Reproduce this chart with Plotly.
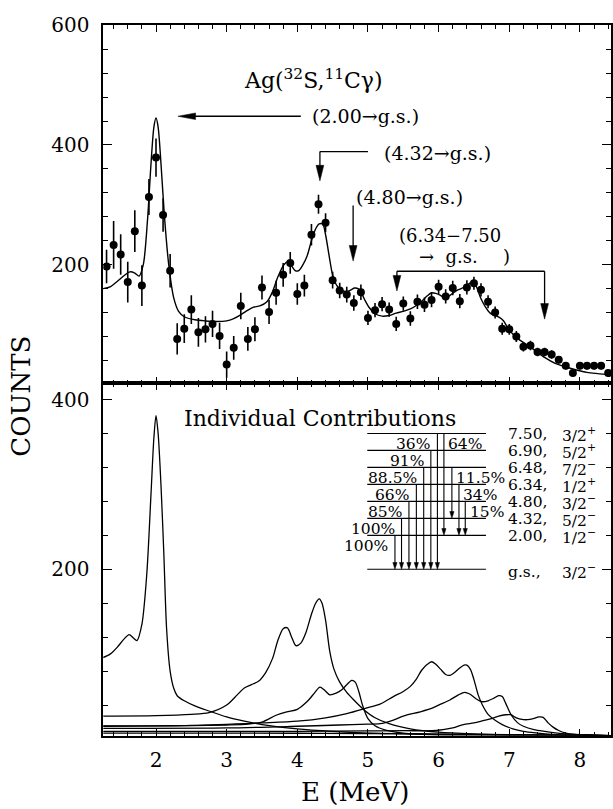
import plotly.graph_objects as go

# ---------------- data: measured spectrum (top panel) ----------------
E_data = [1.30, 1.40, 1.50, 1.60, 1.70, 1.80, 1.90, 2.00, 2.10, 2.20,
          2.30, 2.40, 2.50, 2.60, 2.70, 2.80, 2.90, 3.00, 3.10, 3.20,
          3.30, 3.40, 3.50, 3.60, 3.70, 3.80, 3.90, 4.00, 4.10, 4.20,
          4.30, 4.40, 4.50, 4.60, 4.70, 4.80, 4.90, 5.00, 5.10, 5.20,
          5.30, 5.40, 5.50, 5.60, 5.70, 5.80, 5.90, 6.00, 6.10, 6.20,
          6.30, 6.40, 6.50, 6.60, 6.70, 6.80, 6.90, 7.00, 7.10, 7.20,
          7.30, 7.40, 7.50, 7.60, 7.70, 7.80, 7.90, 8.00, 8.10, 8.20,
          8.30, 8.40]
counts = [197, 233, 217, 171, 256, 165, 313, 379, 283, 190,
          76, 93, 125, 87, 92, 101, 81, 33, 61, 131,
          76, 92, 162, 121, 153, 183, 203, 151, 165, 250,
          301, 270, 174, 157, 150, 136, 154, 111, 124, 134,
          125, 101, 135, 110, 138, 133, 141, 163, 147, 161,
          139, 162, 169, 158, 138, 120, 93, 92, 80, 63,
          65, 54, 54, 50, 41, 31, 19, 31, 31, 31,
          31, 19]
count_err = [28, 40, 34, 34, 35, 34, 30, 32, 28, 28,
             26, 24, 24, 24, 22, 22, 22, 22, 20, 22,
             20, 20, 20, 20, 20, 20, 18, 18, 18, 18,
             16, 16, 14, 13, 13, 13, 13, 12, 12, 12,
             12, 12, 12, 12, 12, 12, 12, 12, 12, 12,
             12, 12, 11, 11, 11, 10, 10, 9, 9, 8,
             8, 7, 7, 7, 6, 6, 6, 6, 6, 6,
             6, 6]

# total fit (top panel)
E_fit = [1.25, 1.35, 1.45, 1.55, 1.63, 1.70, 1.76, 1.82, 1.88, 1.93, 1.97, 2.00, 2.03,
         2.07, 2.12, 2.18, 2.25, 2.32, 2.40, 2.55, 2.70, 2.85, 3.00, 3.10, 3.21, 3.30,
         3.38, 3.47, 3.57, 3.65, 3.72, 3.81, 3.87, 3.92, 3.97, 4.02, 4.08, 4.14, 4.20,
         4.26, 4.31, 4.36, 4.40, 4.45, 4.50, 4.56, 4.63, 4.70, 4.76, 4.81, 4.86, 4.91,
         4.96, 5.02, 5.10, 5.20, 5.30, 5.40, 5.50, 5.60, 5.70, 5.78, 5.84, 5.90, 5.96,
         6.02, 6.08, 6.14, 6.20, 6.26, 6.32, 6.38, 6.44, 6.49, 6.54, 6.60, 6.66, 6.73,
         6.80, 6.86, 6.92, 6.98, 7.05, 7.15, 7.25, 7.35, 7.50, 7.65, 7.80, 7.95, 8.10,
         8.25, 8.44]
fit = [160, 163, 172, 182, 188, 186, 181, 200, 275, 370, 430, 445, 430,
       370, 280, 200, 145, 122, 113, 108, 106, 105, 106, 110, 117, 124,
       129, 131, 138, 155, 178, 200, 205, 198, 190, 190, 200, 215, 240,
       260, 268, 268, 250, 215, 183, 165, 157, 155, 158, 161, 160, 152,
       140, 128, 118, 114, 115, 119, 122, 126, 133, 141, 148, 153, 152,
       149, 145, 147, 152, 157, 160, 164, 169, 172, 162, 143, 130, 119,
       115, 112, 106, 94, 84, 74, 66, 58, 45, 35, 29, 24, 20,
       18, 16]

# ---------------- individual contributions (bottom panel) ----------------
E_c200 = [1.25, 1.35, 1.45, 1.55, 1.62, 1.68, 1.73, 1.80, 1.87, 1.93, 1.97, 2.00, 2.03,
          2.07, 2.11, 2.15, 2.20, 2.25, 2.30, 2.40, 2.55, 2.75, 3.00, 3.25, 3.50, 4.00,
          4.50, 5.00, 5.50, 6.00, 6.50, 7.00, 7.50, 8.00, 8.44]
c200 = [96, 100, 108, 118, 123, 119, 116, 135, 195, 290, 355, 381, 360,
        300, 220, 130, 80, 60, 51, 45, 39, 33, 26, 21, 17, 12,
        9, 7, 6, 5, 5, 4.5, 4.5, 4.2, 4]

E_c432 = [1.25, 2.0, 2.5, 2.75, 3.0, 3.15, 3.25, 3.35, 3.45, 3.55, 3.65, 3.72, 3.80,
          3.86, 3.92, 3.98, 4.05, 4.12, 4.20, 4.26, 4.31, 4.35, 4.40, 4.46, 4.52, 4.60,
          4.70, 4.80, 4.95, 5.10, 5.30, 5.60, 6.00, 6.50, 7.00, 7.50, 8.00, 8.44]
c432 = [27, 27.5, 29, 31, 40, 52, 60, 64, 68, 78, 95, 115, 130,
        131, 120, 110, 113, 125, 147, 160, 165, 160, 140, 103, 82, 67,
        55, 46, 34, 25, 18, 12, 8, 6, 5, 4.5, 4.2, 4]

E_c480 = [1.25, 2.0, 2.5, 3.0, 3.3, 3.5, 3.7, 3.85, 4.0, 4.15, 4.25, 4.32, 4.38, 4.46,
          4.55, 4.63, 4.70, 4.77, 4.82, 4.87, 4.93, 5.00, 5.10, 5.25, 5.50, 6.00, 6.50,
          7.0, 8.44]
c480 = [15.5, 15.5, 15.8, 16.5, 17.5, 20, 28, 32, 35, 45, 55, 61, 58, 52,
        54, 58, 64, 69, 67, 56, 38, 24, 15.6, 10.5, 7, 5, 4.5,
        4.2, 4]

E_c634 = [1.25, 2.5, 3.5, 4.0, 4.4, 4.7, 5.0, 5.17, 5.36, 5.50, 5.60, 5.68, 5.76, 5.84,
          5.90, 5.96, 6.03, 6.10, 6.16, 6.22, 6.29, 6.36, 6.40, 6.45, 6.50, 6.56, 6.62,
          6.70, 6.80, 6.90, 7.05, 7.20, 7.40, 7.60, 7.90, 8.44]
c634 = [15, 16, 19, 21, 25, 30, 37, 41, 50, 56, 62, 70, 81, 88,
        91, 88, 82, 76, 75, 78, 83, 87, 87, 82, 70, 52, 40,
        29, 22, 17, 12, 9, 7, 5.5, 4.5, 4]

E_c690 = [1.25, 3.0, 4.0, 4.6, 5.0, 5.17, 5.35, 5.50, 5.74, 5.90, 6.00, 6.16, 6.28,
          6.37, 6.44, 6.52, 6.61, 6.70, 6.78, 6.85, 6.90, 6.95, 7.03, 7.12, 7.20, 7.35,
          7.50, 7.80, 8.10, 8.44]
c690 = [12.5, 13, 15, 16.5, 17.5, 18, 22, 27, 32, 36, 40, 46, 52,
        55, 53, 48, 44, 45, 48, 51, 50, 42, 28, 19, 15, 11,
        9, 6, 5, 4]

E_c750 = [1.25, 3.0, 4.0, 5.0, 5.5, 5.97, 6.20, 6.35, 6.50, 6.63, 6.75, 6.85, 6.95,
          7.02, 7.10, 7.18, 7.26, 7.34, 7.42, 7.48, 7.55, 7.62, 7.70, 7.80, 7.92, 8.10,
          8.44]
c750 = [9, 9, 9, 9.5, 9.8, 10, 13, 17, 19, 21.6, 24, 27, 28.6,
        28.6, 25, 23, 22.8, 24, 26, 25.5, 19, 14, 10, 7, 5.4, 4.5,
        4]

E_c648 = [1.25, 4.0, 5.0, 6.0, 7.0, 8.44]
c648 = [7, 6.8, 6.5, 6, 5, 4]

# ---------------- level scheme ----------------
level_energy = ["7.50,", "6.90,", "6.48,", "6.34,", "4.80,", "4.32,", "2.00,", "g.s.,"]
level_spin = ["3/2<sup>+</sup>", "5/2<sup>+</sup>", "7/2<sup>−</sup>", "1/2<sup>+</sup>",
              "3/2<sup>−</sup>", "5/2<sup>−</sup>", "1/2<sup>−</sup>", "3/2<sup>−</sup>"]
# transitions: (from level index, to level index, branching label)
transitions = [(6, 7, "100%"), (5, 7, "100%"), (4, 7, "85%"), (3, 7, "66%"),
               (2, 7, "88.5%"), (1, 7, "91%"), (0, 7, "36%"),
               (0, 6, "64%"), (2, 5, "11.5%"), (3, 6, "34%"), (4, 6, "15%")]

# ---------------- layout geometry (pixels of the 613x809 page) ----------------
W, H = 613, 809
X0, X1 = 103.3, 611.0
TOP0, MID, BOT = 13.5, 377.0, 734.5
FONT = "DejaVu Serif"

fig = go.Figure()

fig.add_trace(go.Scatter(
    x=E_data, y=counts, mode="markers", xaxis="x", yaxis="y",
    marker=dict(color="black", size=8),
    error_y=dict(type="data", array=count_err, thickness=1.6, width=0, color="black")))
fig.add_trace(go.Scatter(
    x=E_fit, y=fit, mode="lines", xaxis="x", yaxis="y",
    line=dict(color="black", width=1.4, shape="spline", smoothing=0.8)))

for ex, cy in [(E_c200, c200), (E_c432, c432), (E_c480, c480), (E_c634, c634),
               (E_c690, c690), (E_c750, c750), (E_c648, c648)]:
    fig.add_trace(go.Scatter(
        x=ex, y=cy, mode="lines", xaxis="x2", yaxis="y2",
        line=dict(color="black", width=1.3, shape="spline", smoothing=0.8)))

shapes = []
annotations = []


def line(x0, y0, x1, y1, ax, w=1.3):
    shapes.append(dict(type="line", x0=x0, y0=y0, x1=x1, y1=y1,
                       xref=ax[0], yref=ax[1], line=dict(color="black", width=w)))


def tri_down(x, ytip, L, hw, ax):
    shapes.append(dict(type="path",
                       path=f"M {x-hw},{ytip+L} L {x+hw},{ytip+L} L {x},{ytip} Z",
                       xref=ax[0], yref=ax[1], fillcolor="black",
                       line=dict(color="black", width=0.5)))


def tri_left(xtip, y, L, hh, ax):
    shapes.append(dict(type="path",
                       path=f"M {xtip+L},{y-hh} L {xtip+L},{y+hh} L {xtip},{y} Z",
                       xref=ax[0], yref=ax[1], fillcolor="black",
                       line=dict(color="black", width=0.5)))


def text(x, y, s, ax, size, xanchor="left", yanchor="middle"):
    annotations.append(dict(x=x, y=y, xref=ax[0], yref=ax[1], text=s, showarrow=False,
                            xanchor=xanchor, yanchor=yanchor, borderpad=0,
                            font=dict(family=FONT, size=size, color="black")))


TOP = ("x", "y")
BOTP = ("x2", "y2")

# top panel annotations
text(4.23, 510, "Ag(<sup>32</sup>S,<sup>11</sup>Cγ)", TOP, 22, xanchor="center")
text(4.19, 448, "(2.00→g.s.)", TOP, 19)
line(4.05, 448, 2.50, 448, TOP)
tri_left(2.31, 448, 0.25, 5.5, TOP)

text(5.21, 387, "(4.32→g.s.)", TOP, 19)
line(5.0, 389, 4.32, 389, TOP)
line(4.32, 389, 4.32, 362, TOP)
tri_down(4.32, 340, 26, 0.055, TOP)

text(4.82, 313, "(4.80→g.s.)", TOP, 19)
line(4.79, 299, 4.79, 228, TOP)
tri_down(4.79, 206, 26, 0.055, TOP)

text(5.42, 249, "(6.34−7.50", TOP, 18)
text(5.71, 214, "→  g.s.", TOP, 18)
text(6.96, 213, ")", TOP, 18, xanchor="center")
line(5.41, 189, 7.50, 189, TOP)
line(5.41, 189, 5.41, 178, TOP)
tri_down(5.41, 156, 26, 0.055, TOP)
line(7.50, 189, 7.50, 131, TOP)
tri_down(7.50, 109, 26, 0.055, TOP)

# bottom panel annotations
text(2.38, 378, "Individual Contributions", BOTP, 22)

level_y = [360, 340, 320, 300, 280, 260, 240, 200]
lx0, lx1 = 4.99, 6.67
for i, yv in enumerate(level_y):
    line(lx0, yv, lx1, yv, BOTP, 1.2)
    text(6.97, yv - 1 if i < 7 else yv - 3, level_energy[i], BOTP, 15.5)
    text(7.73, yv - 1 if i < 7 else yv - 3, level_spin[i], BOTP, 15.5)

trans_x = [5.382, 5.475, 5.580, 5.685, 5.789, 5.890, 5.983, 6.075, 6.188, 6.288, 6.377]
for (fi, ti, lab), tx in zip(transitions, trans_x):
    y0 = level_y[fi]
    y1 = level_y[ti]
    line(tx, y0, tx, y1 + 7, BOTP, 1.1)
    tri_down(tx, y1, 8, 0.03, BOTP)
    if ti == 7:
        text(tx - 0.085, y0 - 12, lab, BOTP, 15.5, xanchor="right")
    else:
        text(tx + 0.05, y0 - 12, lab, BOTP, 15.5, xanchor="left")

# axis titles
annotations.append(dict(x=355 / W, y=1 - 792 / H, xref="paper", yref="paper",
                        text="E (MeV)", showarrow=False, xanchor="center", yanchor="middle",
                        borderpad=0, font=dict(family=FONT, size=26, color="black")))
annotations.append(dict(x=21.5 / W, y=1 - 390 / H, xref="paper", yref="paper",
                        text="COUNTS", showarrow=False, xanchor="center", yanchor="middle",
                        textangle=-90, font=dict(family=FONT, size=26, color="black")))

common = dict(showline=True, linecolor="black", linewidth=1.5, mirror="allticks",
              ticks="inside", tickcolor="black", tickwidth=1.3, showgrid=False,
              zeroline=False, tickfont=dict(family=FONT, size=20, color="black"))
xdom = [X0 / W, X1 / W]
xr = [1.254, 8.44]
xminor = dict(dtick=0.2, tick0=0, ticklen=4, ticks="inside", tickcolor="black", tickwidth=1)
yminor = dict(dtick=40, tick0=0, ticklen=5, ticks="inside", tickcolor="black", tickwidth=1)

fig.update_layout(
    width=W, height=H, margin=dict(l=0, r=0, t=0, b=0),
    paper_bgcolor="white", plot_bgcolor="white", showlegend=False,
    xaxis=dict(domain=xdom, range=xr, anchor="y", tickmode="linear", tick0=0, dtick=1,
               ticklen=7, minor=xminor, showticklabels=False, **common),
    yaxis=dict(domain=[1 - MID / H, 1 - TOP0 / H], range=[1.6, 600], anchor="x",
               tickmode="linear", tick0=0, dtick=200, ticklen=9, minor=yminor,
               ticklabelstandoff=8, **common),
    xaxis2=dict(domain=xdom, range=xr, anchor="y2", tickmode="linear", tick0=0, dtick=1,
                ticklen=7, minor=xminor, ticklabelstandoff=6, **common),
    yaxis2=dict(domain=[1 - BOT / H, 1 - MID / H], range=[4, 419], anchor="x2",
                tickmode="linear", tick0=0, dtick=200, ticklen=9, minor=yminor,
                ticklabelstandoff=8, **common),
    shapes=shapes, annotations=annotations,
)

fig.write_html("out.html", config={"displayModeBar": False})
